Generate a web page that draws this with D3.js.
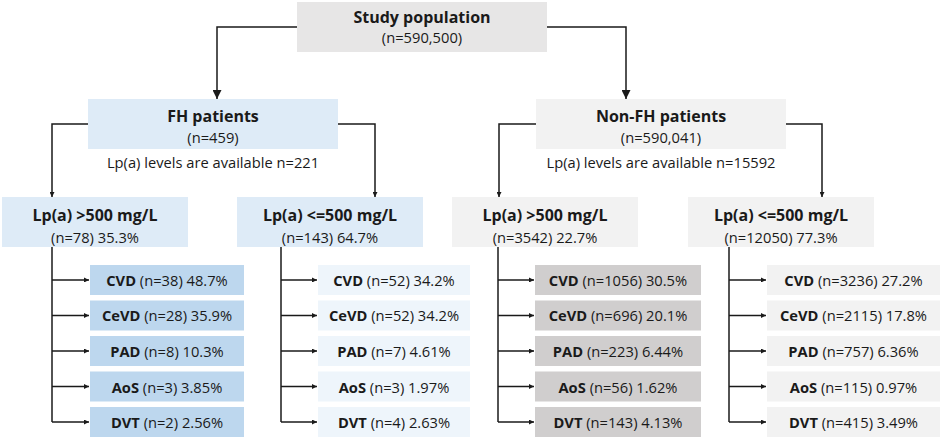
<!DOCTYPE html>
<html>
<head>
<meta charset="utf-8">
<title>Flowchart</title>
<script src="https://cdn.jsdelivr.net/npm/d3@7"></script>
<style>
  body { margin: 0; background: #fff; }
  svg { display: block; font-family: "Open Sans", sans-serif; }
  text { fill: #1a1a1a; }
  .link { fill: none; stroke: #1a1a1a; stroke-width: 1.5; }
</style>
</head>
<body>
<svg width="941" height="440"></svg>
<script>
// data
var rootLabel = "Study population";
var rootN = "(n=590,500)";
var groups = ["FH patients", "Non-FH patients"];
var groupN = ["(n=459)", "(n=590,041)"];
var availableN = [221, 15592];
var levels = ["Lp(a) >500 mg/L", "Lp(a) <=500 mg/L", "Lp(a) >500 mg/L", "Lp(a) <=500 mg/L"];
var levelN = [78, 143, 3542, 12050];
var levelPct = ["35.3%", "64.7%", "22.7%", "77.3%"];
var outcomes = ["CVD", "CeVD", "PAD", "AoS", "DVT"];
var outcomeN = [
  [38, 28, 8, 3, 2],
  [52, 52, 7, 3, 4],
  [1056, 696, 223, 56, 143],
  [3236, 2115, 757, 115, 415]
];
var outcomePct = [
  ["48.7%", "35.9%", "10.3%", "3.85%", "2.56%"],
  ["34.2%", "34.2%", "4.61%", "1.97%", "2.63%"],
  ["30.5%", "20.1%", "6.44%", "1.62%", "4.13%"],
  ["27.2%", "17.8%", "6.36%", "0.97%", "3.49%"]
];

// layout
var svg = d3.select("svg");
var cols = d3.range(4);
var fs = 14.7;

var groupFill = ["#deebf7", "#f2f2f2"];
var subFill = ["#bdd7ee", "#eef5fb", "#d0cece", "#f2f2f2"];

var root = {x: 297, y: 2, w: 250, h: 50};
var groupX = d3.scaleOrdinal().domain([0, 1]).range([88, 536]);
var groupArrowX = d3.scaleOrdinal().domain([0, 1]).range([217, 626]);
var groupBox = {y: 99, w: 250, h: 50};

var levelX = d3.scaleOrdinal().domain(cols).range([2, 237, 452, 688]);
var levelArrowX = d3.scaleOrdinal().domain(cols).range([52, 375, 499, 822]);
var levelBox = {y: 197, w: 186, h: 50};

var trunkX = d3.scaleOrdinal().domain(cols).range([52, 281, 498, 729]);
var subX = d3.scaleOrdinal().domain(cols).range([90, 318, 535, 767]);
var subW = d3.scaleOrdinal().domain(cols).range([154, 152, 166, 173]);
var y = d3.scaleBand().domain(outcomes).range([265, 437]).paddingInner(0.155).paddingOuter(0);

var defs = svg.append("defs");
function marker(id, size) {
  defs.append("marker")
    .attr("id", id)
    .attr("viewBox", "0 0 10 10")
    .attr("refX", 10).attr("refY", 5)
    .attr("markerUnits", "userSpaceOnUse")
    .attr("markerWidth", size).attr("markerHeight", size)
    .attr("orient", "auto")
    .append("path").attr("d", "M0,0L10,5L0,10Z").attr("fill", "#1a1a1a");
}
marker("big", 9);
marker("small", 5);

var links = svg.append("g");
var boxes = svg.append("g");

// root box
boxes.append("rect")
  .attr("x", root.x).attr("y", root.y).attr("width", root.w).attr("height", root.h)
  .attr("fill", "#e7e6e6");
boxes.append("text")
  .attr("x", root.x + root.w / 2).attr("y", 23)
  .attr("text-anchor", "middle").attr("font-size", 16).attr("font-weight", "bold")
  .text(rootLabel);
boxes.append("text")
  .attr("x", root.x + root.w / 2).attr("y", 43)
  .attr("text-anchor", "middle").attr("font-size", fs)
  .text(rootN);

// root -> groups
links.selectAll(".rootlink").data([0, 1]).enter().append("path")
  .attr("class", "link")
  .attr("marker-end", "url(#big)")
  .attr("d", function(i) {
    var sx = i === 0 ? root.x : root.x + root.w;
    return "M" + sx + ",27H" + groupArrowX(i) + "V" + groupBox.y;
  });

// group boxes
var g = boxes.selectAll(".group").data([0, 1]).enter().append("g");
g.append("rect")
  .attr("x", function(i) { return groupX(i); })
  .attr("y", groupBox.y).attr("width", groupBox.w).attr("height", groupBox.h)
  .attr("fill", function(i) { return groupFill[i]; });
g.append("text")
  .attr("x", function(i) { return groupX(i) + groupBox.w / 2; })
  .attr("y", 122)
  .attr("text-anchor", "middle").attr("font-size", 16).attr("font-weight", "bold")
  .text(function(i) { return groups[i]; });
g.append("text")
  .attr("x", function(i) { return groupX(i) + groupBox.w / 2; })
  .attr("y", 143)
  .attr("text-anchor", "middle").attr("font-size", fs)
  .text(function(i) { return groupN[i]; });
g.append("text")
  .attr("x", function(i) { return groupX(i) + groupBox.w / 2; })
  .attr("y", 168)
  .attr("text-anchor", "middle").attr("font-size", fs)
  .text(function(i) { return "Lp(a) levels are available n=" + availableN[i]; });

// groups -> levels
links.selectAll(".grouplink").data(cols).enter().append("path")
  .attr("class", "link")
  .attr("marker-end", "url(#small)")
  .attr("d", function(c) {
    var gi = Math.floor(c / 2);
    var sx = c % 2 === 0 ? groupX(gi) : groupX(gi) + groupBox.w;
    return "M" + sx + ",124H" + levelArrowX(c) + "V" + levelBox.y;
  });

// level boxes
var l = boxes.selectAll(".level").data(cols).enter().append("g");
l.append("rect")
  .attr("x", function(c) { return levelX(c); })
  .attr("y", levelBox.y).attr("width", levelBox.w).attr("height", levelBox.h)
  .attr("fill", function(c) { return groupFill[Math.floor(c / 2)]; });
l.append("text")
  .attr("x", function(c) { return levelX(c) + levelBox.w / 2; })
  .attr("y", 221)
  .attr("text-anchor", "middle").attr("font-size", 16).attr("font-weight", "bold")
  .text(function(c) { return levels[c]; });
l.append("text")
  .attr("x", function(c) { return levelX(c) + levelBox.w / 2; })
  .attr("y", 242.5)
  .attr("text-anchor", "middle").attr("font-size", fs)
  .text(function(c) { return "(n=" + levelN[c] + ") " + levelPct[c]; });

// trunks and outcome branches
cols.forEach(function(c) {
  links.append("path")
    .attr("class", "link")
    .attr("d", "M" + trunkX(c) + "," + (levelBox.y + levelBox.h) +
      "V" + (y(outcomes[outcomes.length - 1]) + y.bandwidth() / 2));

  links.selectAll(".branch" + c).data(outcomes).enter().append("path")
    .attr("class", "link")
    .attr("marker-end", "url(#small)")
    .attr("d", function(o) {
      var cy = y(o) + y.bandwidth() / 2;
      return "M" + trunkX(c) + "," + cy + "H" + (subX(c) - 1);
    });

  var s = boxes.selectAll(".sub" + c).data(outcomes).enter().append("g");
  s.append("rect")
    .attr("x", subX(c)).attr("y", function(o) { return y(o); })
    .attr("width", subW(c)).attr("height", y.bandwidth())
    .attr("fill", subFill[c]);
  var t = s.append("text")
    .attr("x", subX(c) + subW(c) / 2)
    .attr("y", function(o) { return y(o) + y.bandwidth() / 2 + 6; })
    .attr("text-anchor", "middle").attr("font-size", fs);
  t.append("tspan").attr("font-weight", "bold").text(function(o) { return o; });
  t.append("tspan").text(function(o, i) {
    return " (n=" + outcomeN[c][i] + ") " + outcomePct[c][i];
  });
});
</script>
</body>
</html>
